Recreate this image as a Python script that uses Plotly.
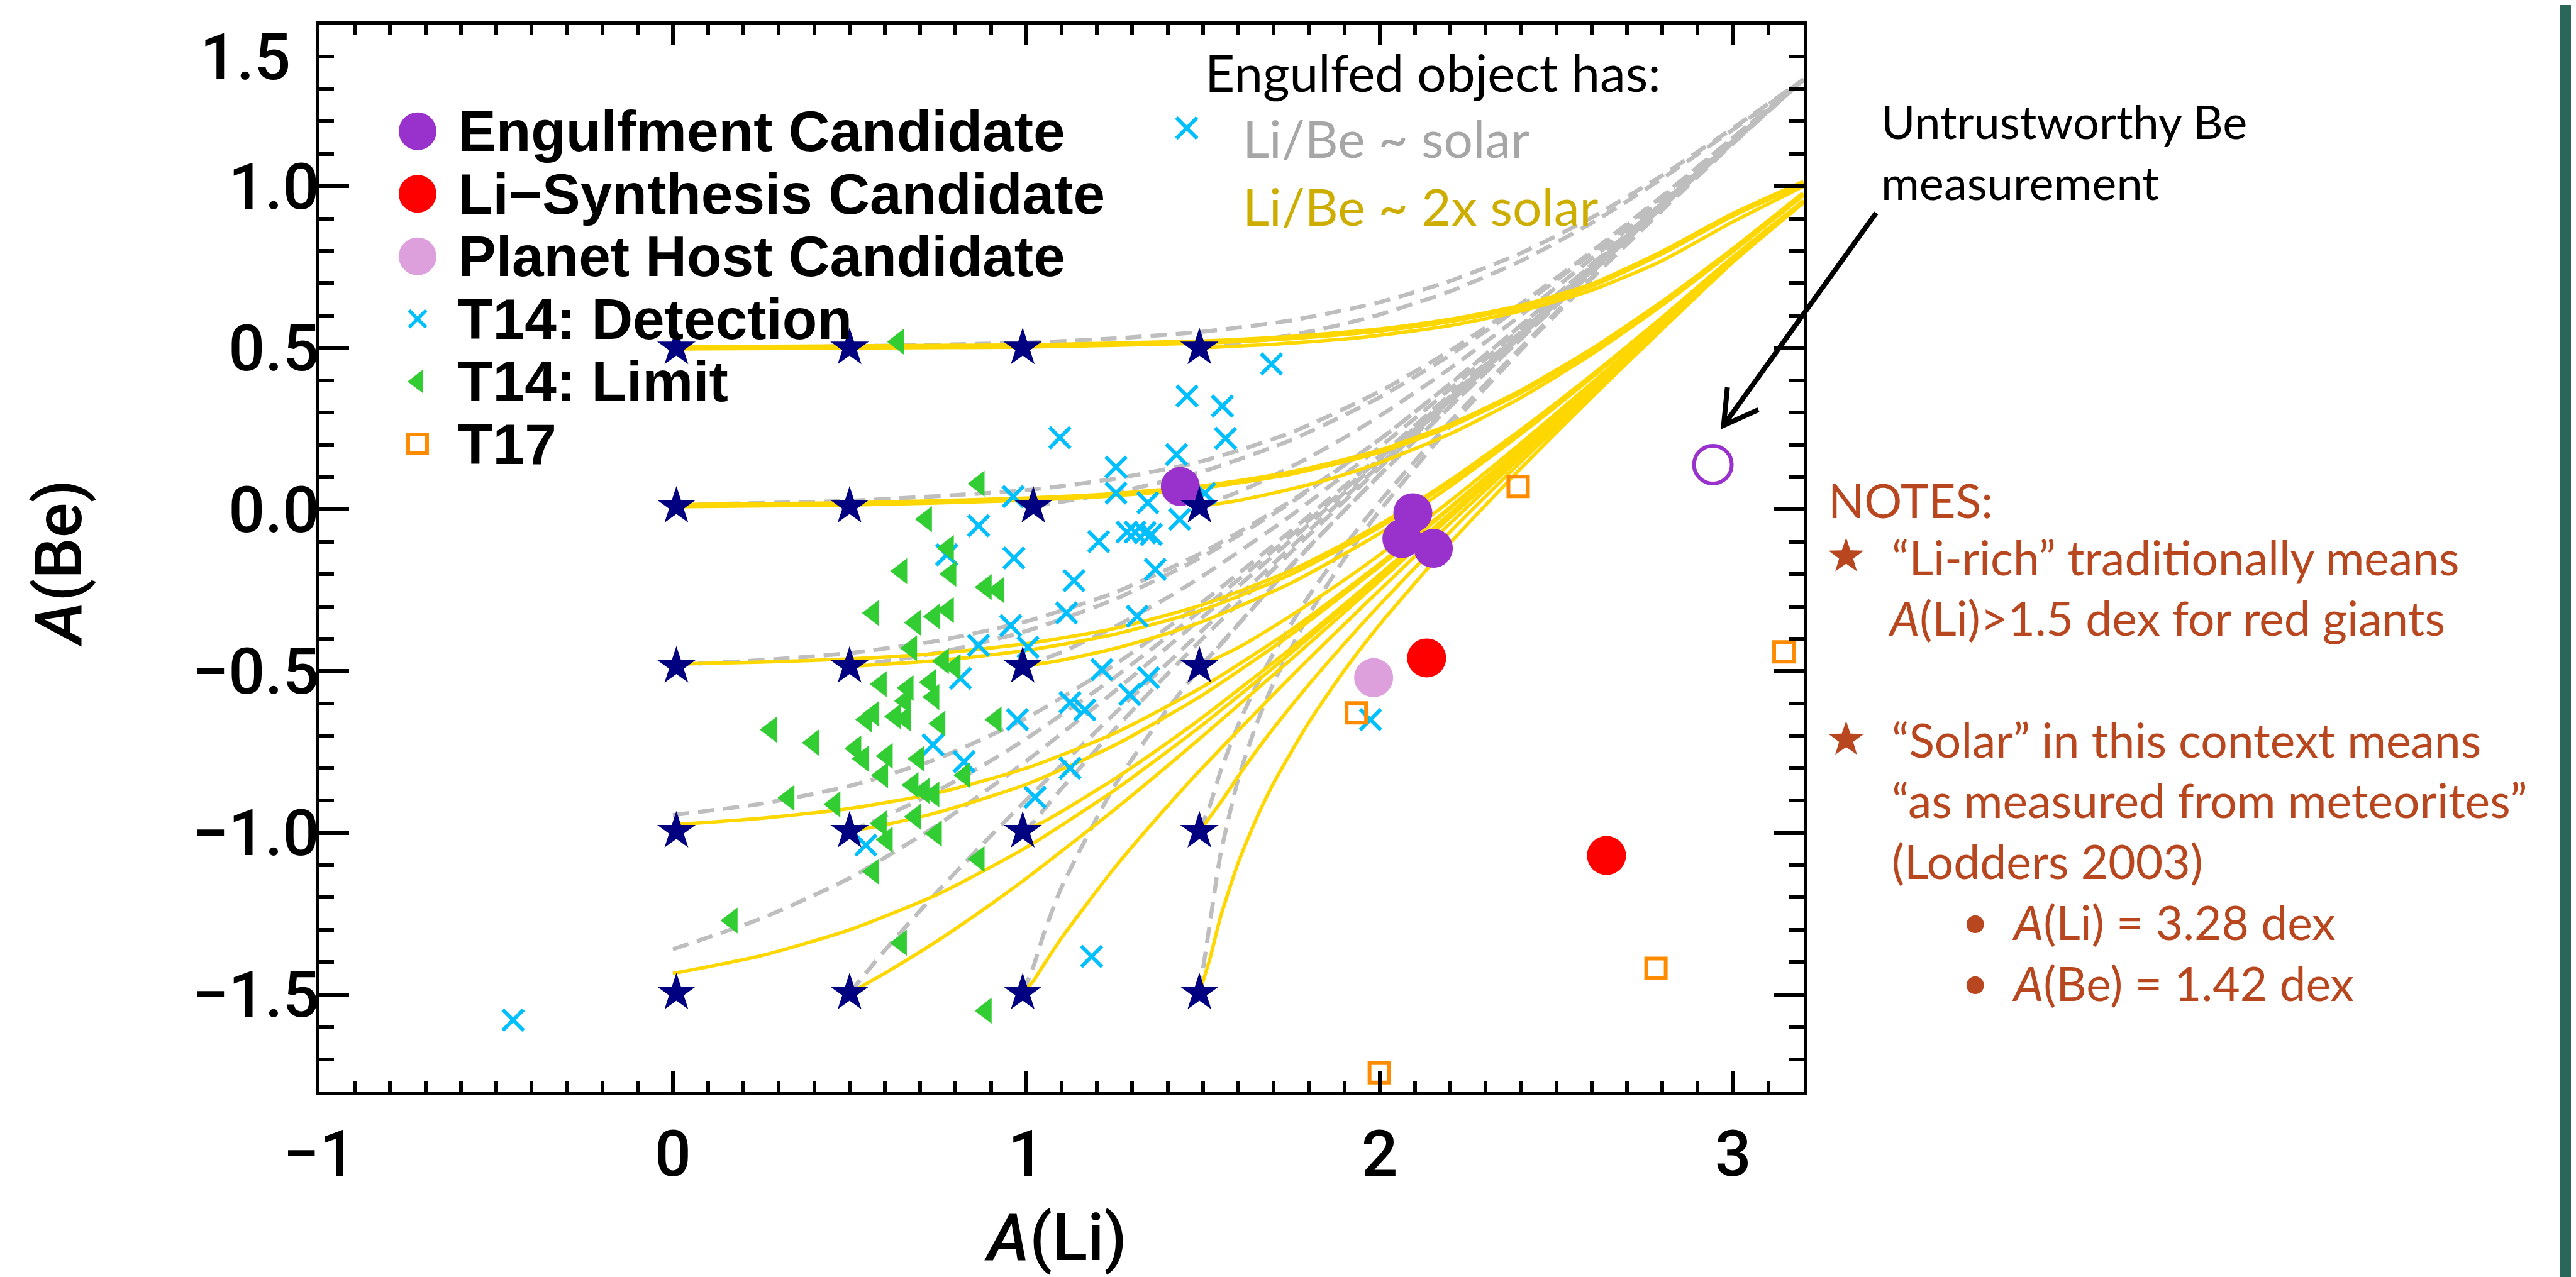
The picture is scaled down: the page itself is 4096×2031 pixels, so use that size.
import math
import plotly.graph_objects as go

# ---------------- data ----------------
engulf_li = [1.436, 2.094, 2.063, 2.152]
engulf_be = [0.071, -0.010, -0.090, -0.120]
engulf_open_li = [2.943]
engulf_open_be = [0.139]
lisyn_li = [2.133, 2.642]
lisyn_be = [-0.459, -1.070]
planet_li = [1.983]
planet_be = [-0.520]
t17_li = [2.392, 1.934, 3.144, 2.782, 1.999]
t17_be = [0.071, -0.629, -0.440, -1.419, -1.742]

t14_det_li = [1.694, 1.455, 1.555, 1.564, 1.095, 1.425, 1.254, 1.254, 1.344, 1.505,
              1.434, 1.205, 1.285, 1.308, 1.336, 1.354, 1.365, 1.135, 1.114, 1.314,
              1.214, 0.963, 0.865, 0.775, 0.965, 0.956, 0.865, 1.005, 0.814, 0.975,
              0.736, 0.824, 1.025, 0.546, 1.346, 1.293, 1.124, 1.166, 1.124, 1.185,
              1.974, -0.452, 1.454]
t14_det_be = [0.450, 0.351, 0.320, 0.220, 0.222, 0.170, 0.131, 0.051, 0.021, 0.050,
              -0.030, -0.099, -0.070, -0.070, -0.072, -0.077, -0.185, -0.220, -0.320, -0.330,
              -0.495, 0.040, -0.050, -0.140, -0.150, -0.359, -0.420, -0.426, -0.522, -0.650,
              -0.728, -0.780, -0.890, -1.038, -0.520, -0.572, -0.597, -0.620, -0.800, -1.382,
              -0.650, -1.579, 1.180]

t14_lim_li = [0.638, 0.866, 0.717, 0.779, 0.647, 0.786, 0.886, 0.921, 0.567, 0.686,
              0.740, 0.779, 0.675, 0.765, 0.798, 0.589, 0.665, 0.728, 0.738, 0.658,
              0.568, 0.548, 0.630, 0.658, 0.755, 0.914, 0.278, 0.397, 0.517, 0.538,
              0.606, 0.696, 0.593, 0.826, 0.679, 0.710, 0.738, 0.328, 0.458, 0.686,
              0.589, 0.606, 0.745, 0.866, 0.567, 0.167, 0.646, 0.886]
t14_lim_be = [0.519, 0.080, -0.030, -0.119, -0.191, -0.199, -0.240, -0.249, -0.320, -0.350,
              -0.331, -0.311, -0.429, -0.469, -0.487, -0.540, -0.552, -0.534, -0.580, -0.592,
              -0.632, -0.650, -0.640, -0.647, -0.662, -0.650, -0.681, -0.721, -0.739, -0.771,
              -0.762, -0.771, -0.822, -0.822, -0.852, -0.870, -0.881, -0.892, -0.912, -0.950,
              -0.971, -1.021, -1.002, -1.081, -1.120, -1.271, -1.340, -1.550]

star_li = [0.01, 0.50, 0.99, 1.49,
           0.01, 0.50, 1.02, 1.49,
           0.01, 0.50, 0.99, 1.49,
           0.01, 0.50, 0.99, 1.49,
           0.01, 0.50, 0.99, 1.49]
star_be = [0.500, 0.500, 0.500, 0.500,
           0.010, 0.010, 0.010, 0.010,
           -0.485, -0.485, -0.485, -0.485,
           -0.995, -0.995, -0.995, -0.995,
           -1.495, -1.495, -1.495, -1.495]

# engulfment tracks, Li/Be ~ solar (grey dashed), one list per track
gray_li = [
    [0.0, 0.5, 1.0, 1.25, 1.5, 1.75, 2.0, 2.2, 2.4, 2.6, 2.8, 3.0, 3.2],
    [1.49, 1.7, 1.8, 1.9, 2.0, 2.2, 2.4, 2.6, 2.8, 3.0, 3.2],
    [0.0, 0.5, 1.0, 1.25, 1.5, 1.75, 2.0, 2.2, 2.4, 2.6, 2.8, 3.0, 3.2],
    [1.02, 1.1, 1.25, 1.5, 1.75, 2.0, 2.2, 2.4, 2.6, 2.8, 3.0, 3.2],
    [1.49, 1.6, 1.7, 1.8, 1.9, 2.0, 2.2, 2.4, 2.6, 2.8, 3.0, 3.2],
    [0.0, 0.25, 0.5, 0.75, 1.0, 1.25, 1.5, 1.75, 2.0, 2.2, 2.4, 2.6, 2.8, 3.0, 3.2],
    [0.5, 0.75, 1.0, 1.25, 1.5, 1.75, 2.0, 2.2, 2.4, 2.6, 2.8, 3.0, 3.2],
    [0.99, 1.1, 1.25, 1.4, 1.5, 1.75, 2.0, 2.2, 2.4, 2.6, 2.8, 3.0, 3.2],
    [1.49, 1.55, 1.6, 1.7, 1.8, 1.9, 2.0, 2.2, 2.4, 2.6, 2.8, 3.0, 3.2],
    [0.0, 0.25, 0.5, 0.75, 1.0, 1.25, 1.5, 1.75, 2.0, 2.2, 2.4, 2.6, 2.8, 3.0, 3.2],
    [0.5, 0.6, 0.75, 0.875, 1.0, 1.25, 1.5, 1.75, 2.0, 2.2, 2.4, 2.6, 2.8, 3.0, 3.2],
    [0.99, 1.02, 1.05, 1.1, 1.25, 1.4, 1.5, 1.75, 2.0, 2.2, 2.4, 2.6, 2.8, 3.0, 3.2],
    [1.49, 1.52, 1.55, 1.6, 1.65, 1.7, 1.8, 1.9, 2.0, 2.2, 2.4, 2.6, 2.8, 3.0, 3.2],
    [0.0, 0.25, 0.5, 0.75, 1.0, 1.25, 1.5, 1.75, 2.0, 2.2, 2.4, 2.6, 2.8, 3.0, 3.2],
    [0.5, 0.6, 0.75, 0.875, 1.0, 1.25, 1.5, 1.75, 2.0, 2.2, 2.4, 2.6, 2.8, 3.0, 3.2],
    [0.99, 1.02, 1.05, 1.1, 1.25, 1.4, 1.5, 1.75, 2.0, 2.2, 2.4, 2.6, 2.8, 3.0, 3.2],
    [1.49, 1.52, 1.55, 1.6, 1.65, 1.7, 1.8, 1.9, 2.0, 2.2, 2.4, 2.6, 2.8, 3.0, 3.2],
]
gray_be = [
    [0.502, 0.505, 0.516, 0.529, 0.550, 0.585, 0.641, 0.707, 0.793, 0.903, 1.034, 1.180, 1.330],
    [0.500, 0.530, 0.550, 0.574, 0.603, 0.675, 0.769, 0.886, 1.024, 1.175, 1.330],
    [0.015, 0.027, 0.060, 0.095, 0.150, 0.238, 0.365, 0.492, 0.637, 0.798, 0.970, 1.150, 1.330],
    [0.010, 0.024, 0.052, 0.118, 0.215, 0.347, 0.478, 0.628, 0.792, 0.967, 1.150, 1.330],
    [0.010, 0.054, 0.105, 0.161, 0.222, 0.289, 0.437, 0.601, 0.776, 0.958, 1.145, 1.330],
    [-0.480, -0.466, -0.444, -0.406, -0.346, -0.257, -0.132, 0.027, 0.216, 0.390, 0.570, 0.757, 0.948, 1.140, 1.330],
    [-0.485, -0.443, -0.376, -0.278, -0.145, 0.022, 0.217, 0.389, 0.570, 0.758, 0.948, 1.140, 1.330],
    [-0.485, -0.441, -0.363, -0.272, -0.205, -0.018, 0.193, 0.373, 0.560, 0.752, 0.945, 1.138, 1.330],
    [-0.485, -0.419, -0.356, -0.234, -0.117, -0.004, 0.106, 0.319, 0.528, 0.733, 0.936, 1.135, 1.330],
    [-0.945, -0.910, -0.855, -0.770, -0.645, -0.480, -0.285, -0.065, 0.165, 0.356, 0.550, 0.746, 0.943, 1.138, 1.330],
    [-0.995, -0.949, -0.869, -0.793, -0.709, -0.519, -0.307, -0.080, 0.157, 0.350, 0.546, 0.744, 0.942, 1.138, 1.330],
    [-0.995, -0.968, -0.928, -0.863, -0.680, -0.508, -0.398, -0.131, 0.129, 0.333, 0.536, 0.738, 0.938, 1.136, 1.330],
    [-0.995, -0.914, -0.809, -0.666, -0.547, -0.444, -0.267, -0.114, 0.024, 0.273, 0.501, 0.718, 0.929, 1.133, 1.330],
    [-1.360, -1.265, -1.140, -0.975, -0.778, -0.562, -0.332, -0.094, 0.149, 0.346, 0.544, 0.742, 0.941, 1.138, 1.330],
    [-1.495, -1.363, -1.180, -1.037, -0.898, -0.631, -0.372, -0.116, 0.137, 0.338, 0.539, 0.738, 0.938, 1.137, 1.330],
    [-1.495, -1.414, -1.311, -1.168, -0.854, -0.617, -0.479, -0.172, 0.107, 0.320, 0.528, 0.733, 0.936, 1.136, 1.330],
    [-1.495, -1.277, -1.065, -0.833, -0.668, -0.536, -0.325, -0.153, -0.004, 0.258, 0.493, 0.714, 0.926, 1.132, 1.330],
]

# engulfment tracks, Li/Be ~ 2x solar (gold solid)
gold_li = [
    [0.0, 0.5, 1.0, 1.5, 1.75, 2.0, 2.2, 2.4, 2.6, 2.8, 3.0, 3.2],
    [1.49, 1.7, 1.9, 2.0, 2.2, 2.4, 2.6, 2.8, 3.0, 3.2],
    [0.0, 0.5, 1.0, 1.25, 1.5, 1.75, 2.0, 2.2, 2.4, 2.6, 2.8, 3.0, 3.2],
    [1.49, 1.6, 1.7, 1.8, 1.9, 2.0, 2.2, 2.4, 2.6, 2.8, 3.0, 3.2],
    [0.0, 0.25, 0.5, 0.75, 1.0, 1.25, 1.5, 1.75, 2.0, 2.2, 2.4, 2.6, 2.8, 3.0, 3.2],
    [0.5, 0.75, 1.0, 1.25, 1.5, 1.75, 2.0, 2.2, 2.4, 2.6, 2.8, 3.0, 3.2],
    [0.99, 1.1, 1.25, 1.4, 1.5, 1.75, 2.0, 2.2, 2.4, 2.6, 2.8, 3.0, 3.2],
    [1.49, 1.6, 1.7, 1.8, 1.9, 2.0, 2.2, 2.4, 2.6, 2.8, 3.0, 3.2],
    [0.0, 0.25, 0.5, 0.75, 1.0, 1.25, 1.5, 1.75, 2.0, 2.2, 2.4, 2.6, 2.8, 3.0, 3.2],
    [0.5, 0.6, 0.75, 1.0, 1.25, 1.5, 1.75, 2.0, 2.2, 2.4, 2.6, 2.8, 3.0, 3.2],
    [0.99, 1.05, 1.1, 1.25, 1.4, 1.5, 1.75, 2.0, 2.2, 2.4, 2.6, 2.8, 3.0, 3.2],
    [1.49, 1.55, 1.6, 1.65, 1.7, 1.8, 1.9, 2.0, 2.2, 2.4, 2.6, 2.8, 3.0, 3.2],
    [0.0, 0.25, 0.5, 0.75, 1.0, 1.25, 1.5, 1.75, 2.0, 2.2, 2.4, 2.6, 2.8, 3.0, 3.2],
    [0.5, 0.6, 0.75, 0.875, 1.0, 1.25, 1.5, 1.75, 2.0, 2.2, 2.4, 2.6, 2.8, 3.0, 3.2],
    [0.99, 1.02, 1.05, 1.1, 1.25, 1.4, 1.5, 1.75, 2.0, 2.2, 2.4, 2.6, 2.8, 3.0, 3.2],
    [1.49, 1.52, 1.55, 1.6, 1.65, 1.7, 1.8, 1.9, 2.0, 2.2, 2.4, 2.6, 2.8, 3.0, 3.2],
]
gold_be = [
    [0.500, 0.503, 0.506, 0.518, 0.532, 0.555, 0.585, 0.628, 0.694, 0.795, 0.912, 1.011],
    [0.500, 0.511, 0.527, 0.539, 0.569, 0.614, 0.678, 0.770, 0.890, 1.000],
    [0.012, 0.017, 0.032, 0.046, 0.070, 0.113, 0.180, 0.260, 0.365, 0.493, 0.640, 0.803, 0.977],
    [0.010, 0.028, 0.051, 0.077, 0.108, 0.145, 0.234, 0.346, 0.480, 0.632, 0.799, 0.972],
    [-0.478, -0.472, -0.462, -0.445, -0.415, -0.368, -0.294, -0.188, -0.046, 0.091, 0.247, 0.416, 0.595, 0.781, 0.955],
    [-0.485, -0.467, -0.436, -0.386, -0.310, -0.200, -0.055, 0.085, 0.242, 0.413, 0.594, 0.781, 0.955],
    [-0.485, -0.466, -0.430, -0.383, -0.346, -0.227, -0.074, 0.072, 0.234, 0.408, 0.591, 0.779, 0.953],
    [-0.485, -0.427, -0.362, -0.292, -0.218, -0.140, 0.027, 0.205, 0.391, 0.581, 0.775, 0.952],
    [-0.975, -0.955, -0.925, -0.876, -0.800, -0.692, -0.548, -0.372, -0.168, 0.008, 0.193, 0.384, 0.578, 0.773, 0.952],
    [-0.995, -0.975, -0.937, -0.850, -0.729, -0.573, -0.386, -0.176, 0.004, 0.191, 0.382, 0.577, 0.773, 0.951],
    [-0.995, -0.965, -0.934, -0.833, -0.721, -0.642, -0.429, -0.201, -0.012, 0.181, 0.376, 0.573, 0.772, 0.951],
    [-0.995, -0.906, -0.825, -0.748, -0.676, -0.541, -0.415, -0.295, -0.068, 0.148, 0.357, 0.563, 0.767, 0.950],
    [-1.435, -1.380, -1.300, -1.190, -1.045, -0.868, -0.665, -0.443, -0.210, -0.018, 0.178, 0.375, 0.573, 0.771, 0.951],
    [-1.495, -1.434, -1.333, -1.240, -1.141, -0.928, -0.700, -0.463, -0.221, -0.024, 0.174, 0.372, 0.571, 0.771, 0.950],
    [-1.495, -1.458, -1.407, -1.325, -1.108, -0.917, -0.797, -0.516, -0.249, -0.042, 0.163, 0.366, 0.568, 0.769, 0.950],
    [-1.495, -1.388, -1.259, -1.092, -0.959, -0.846, -0.658, -0.498, -0.356, -0.103, 0.128, 0.347, 0.558, 0.765, 0.950],
]
# tracks drawn heavier because several model tracks overlap there in the original
gold_heavy = [0, 2]

x_range = [-1.0, 3.2]
y_range = [-1.8, 1.5]
y_ticks = [-1.5, -1.0, -0.5, 0.0, 0.5, 1.0, 1.5]
x_ticks = [-1, 0, 1, 2, 3]

legend_labels = ["Engulfment Candidate", "Li\u2212Synthesis Candidate", "Planet Host Candidate",
                 "T14: Detection", "T14: Limit", "T17"]

# ---------------- styles ----------------
C_GOLD = "#FFD700"
C_GRAY = "#BEBEBE"
C_CYAN = "#00BFFF"
C_GREEN = "#32CD32"
C_ORANGE = "#FF8C00"
C_PURPLE = "#9932CC"
C_RED = "#FF0000"
C_PLUM = "#DDA0DD"
C_NAVY = "#000080"
C_NOTE = "#B8461E"
IDL_FONT = "Liberation Sans"
TICK_FONT = "Roboto"
PPT_FONT = "Lato"

W, H = 4096, 2031
# reference-pixel geometry of the plot frame (4858 x 2409 reference)
FX0, FX1 = 593.0, 3392.0
FY0, FY1 = 2050.0, 36.5
S = W / 4858.0


def px(x):
    return (x - FX0) / (FX1 - FX0)


def py(y):
    return (FY0 - y) / (FY0 - FY1)


def fmt_y(v):
    return ("\u2212%.1f" % -v) if v < 0 else "%.1f" % v


fig = go.Figure()

for xs, ys in zip(gray_li, gray_be):
    fig.add_trace(go.Scatter(x=xs, y=ys, mode="lines", hoverinfo="skip",
                             line=dict(color=C_GRAY, width=6.5, dash="26px,14px",
                                       shape="spline", smoothing=0.6)))
for k, (xs, ys) in enumerate(zip(gold_li, gold_be)):
    fig.add_trace(go.Scatter(x=xs, y=ys, mode="lines", hoverinfo="skip",
                             line=dict(color=C_GOLD, width=9 if k in gold_heavy else 5.5,
                                       shape="spline", smoothing=0.6)))

fig.add_trace(go.Scatter(x=t14_det_li, y=t14_det_be, mode="markers",
                         marker=dict(symbol="x-thin", size=33, color=C_CYAN,
                                     line=dict(color=C_CYAN, width=6))))
fig.add_trace(go.Scatter(x=t14_lim_li, y=t14_lim_be, mode="markers",
                         marker=dict(symbol="triangle-left", size=36, color=C_GREEN)))
fig.add_trace(go.Scatter(x=t17_li, y=t17_be, mode="markers",
                         marker=dict(symbol="square-open", size=31, color=C_ORANGE,
                                     line=dict(color=C_ORANGE, width=6))))
fig.add_trace(go.Scatter(x=planet_li, y=planet_be, mode="markers",
                         marker=dict(symbol="circle", size=62, color=C_PLUM)))
fig.add_trace(go.Scatter(x=lisyn_li, y=lisyn_be, mode="markers",
                         marker=dict(symbol="circle", size=62, color=C_RED)))
fig.add_trace(go.Scatter(x=engulf_li, y=engulf_be, mode="markers",
                         marker=dict(symbol="circle", size=62, color=C_PURPLE)))
fig.add_trace(go.Scatter(x=engulf_open_li, y=engulf_open_be, mode="markers",
                         marker=dict(symbol="circle-open", size=60, color=C_PURPLE,
                                     line=dict(color=C_PURPLE, width=6))))
fig.add_trace(go.Scatter(x=star_li, y=star_be, mode="markers",
                         marker=dict(symbol="star", size=46, color=C_NAVY)))

# ---------------- hand-made legend (overlay axes, plot-fraction units) ----------------
leg_styles = [
    dict(symbol="circle", size=60, color=C_PURPLE),
    dict(symbol="circle", size=60, color=C_RED),
    dict(symbol="circle", size=60, color=C_PLUM),
    dict(symbol="x-thin", size=27, color=C_CYAN, line=dict(color=C_CYAN, width=5.5)),
    dict(symbol="triangle-left", size=32, color=C_GREEN),
    dict(symbol="square-open", size=30, color=C_ORANGE, line=dict(color=C_ORANGE, width=6)),
]
leg_x = px(778)
leg_text_x = px(852)
leg_y0 = py(238)
leg_step = py(240) - py(358)
annotations = []
for i, (lab, st) in enumerate(zip(legend_labels, leg_styles)):
    yy = leg_y0 - i * leg_step
    fig.add_trace(go.Scatter(x=[leg_x], y=[yy], xaxis="x2", yaxis="y2", mode="markers",
                             marker=st, cliponaxis=False, hoverinfo="skip"))
    annotations.append(dict(x=leg_text_x, y=yy, xref="paper", yref="paper", text="<b>%s</b>" % lab,
                            showarrow=False, xanchor="left", yanchor="middle",
                            font=dict(family=IDL_FONT, size=91, color="black")))


def txt(x, y, s, size, color="black", family=PPT_FONT, xanchor="left", weight="normal", **kw):
    d = dict(x=px(x), y=py(y), xref="paper", yref="paper", text=s, showarrow=False,
             xanchor=xanchor, yanchor="middle",
             font=dict(family=family, size=size, color=color, weight=weight))
    d.update(kw)
    annotations.append(d)


txt(2261, 125, "Engulfed object has:", 82)
txt(2332, 250, "Li/Be ~ solar", 82, color="#A6A6A6")
txt(2332, 378, "Li/Be ~ 2x solar", 82, color="#CDAE00")
txt(3535, 219, "Untrustworthy Be", 74)
txt(3535, 334, "measurement", 74)
txt(3436, 933, "NOTES:", 75, color=C_NOTE)
txt(3556, 1041, "\u201cLi-rich\u201d traditionally means", 75, color=C_NOTE)
txt(3548, 1155, "<i>A</i>(Li)>1.5 dex for red giants", 75, color=C_NOTE)
txt(3556, 1386, "\u201cSolar\u201d in this context means", 75, color=C_NOTE)
txt(3556, 1500, "\u201cas measured from meteorites\u201d", 75, color=C_NOTE)
txt(3556, 1615, "(Lodders 2003)", 75, color=C_NOTE)
txt(3716, 1726, "\u2022", 75, color=C_NOTE, xanchor="center")
txt(3782, 1730, "<i>A</i>(Li) = 3.28 dex", 75, color=C_NOTE)
txt(3716, 1841, "\u2022", 75, color=C_NOTE, xanchor="center")
txt(3782, 1845, "<i>A</i>(Be) = 1.42 dex", 75, color=C_NOTE)

# axis titles
txt(1981, 2326, "<i>A</i>(Li)", 104, family=TICK_FONT, xanchor="center", weight=500)
txt(102, 1053, "<i>A</i>(Be)", 104, family=TICK_FONT, xanchor="center", weight=500, textangle=-90)
# top y tick label is nudged down inside the figure, as in the original
txt(541, 98, fmt_y(y_ticks[-1]), 102, family=TICK_FONT, xanchor="right", weight=500)

# ---------------- arrow, note stars and side bar ----------------
tail = (3528.6, 392.0)
head = (3241.0, 793.0)
dx, dy = tail[0] - head[0], tail[1] - head[1]
ln = math.hypot(dx, dy)
ux, uy = dx / ln, dy / ln
arms = []
for ang in (30.0, -30.0):
    a = math.radians(ang)
    ax = ux * math.cos(a) - uy * math.sin(a)
    ay = ux * math.sin(a) + uy * math.cos(a)
    arms.append((head[0] + 72 * ax, head[1] + 72 * ay))
path = "M %f,%f L %f,%f M %f,%f L %f,%f L %f,%f" % (
    px(tail[0]), py(tail[1]), px(head[0]), py(head[1]),
    px(arms[0][0]), py(arms[0][1]), px(head[0]), py(head[1]), px(arms[1][0]), py(arms[1][1]))


def star_path(cx, cy, r_out=35.0, r_in=14.0):
    pts = []
    for k in range(10):
        r = r_out if k % 2 == 0 else r_in
        a = math.radians(-90 + 36 * k)
        pts.append((cx + r * math.cos(a), cy + r * math.sin(a)))
    return "M " + " L ".join("%f,%f" % (px(x), py(y)) for x, y in pts) + " Z"


shapes = [
    dict(type="path", path=path, xref="paper", yref="paper",
         line=dict(color="black", width=8)),
    dict(type="path", path=star_path(3472, 1040), xref="paper", yref="paper",
         fillcolor=C_NOTE, line=dict(width=0)),
    dict(type="path", path=star_path(3472, 1386), xref="paper", yref="paper",
         fillcolor=C_NOTE, line=dict(width=0)),
    dict(type="rect", xref="paper", yref="paper", x0=px(4818), x1=px(4900), y0=py(2500), y1=py(-50),
         fillcolor="#2A6659", line=dict(width=0), layer="above"),
]

axis_common = dict(showline=True, linewidth=6, linecolor="black", mirror="allticks",
                   ticks="inside", tickwidth=6, tickcolor="black", showgrid=False, zeroline=False,
                   tickfont=dict(family=TICK_FONT, size=102, color="black", weight=500))

fig.update_layout(
    width=W, height=H, autosize=False,
    margin=dict(l=round(FX0 * S), r=W - round(FX1 * S), t=round(FY1 * S), b=H - round(FY0 * S), pad=0),
    paper_bgcolor="white", plot_bgcolor="white", showlegend=False,
    xaxis=dict(range=x_range, tickmode="array", tickvals=x_ticks,
               ticktext=[("\u2212%d" % -v) if v < 0 else str(v) for v in x_ticks],
               ticklen=33, ticklabelstandoff=6,
               minor=dict(dtick=0.1, tick0=0, ticks="inside", ticklen=16, tickwidth=6,
                          tickcolor="black", showgrid=False),
               **axis_common),
    yaxis=dict(range=y_range, tickmode="array", tickvals=y_ticks,
               ticktext=[fmt_y(v) for v in y_ticks[:-1]] + [""],
               ticklen=47, ticklabelstandoff=-26,
               minor=dict(dtick=0.1, tick0=0, ticks="inside", ticklen=23, tickwidth=6,
                          tickcolor="black", showgrid=False),
               **axis_common),
    xaxis2=dict(range=[0, 1], overlaying="x", anchor="y2", visible=False),
    yaxis2=dict(range=[0, 1], overlaying="y", anchor="x2", visible=False),
    annotations=annotations,
    shapes=shapes,
)

fig.write_html("out.html")
